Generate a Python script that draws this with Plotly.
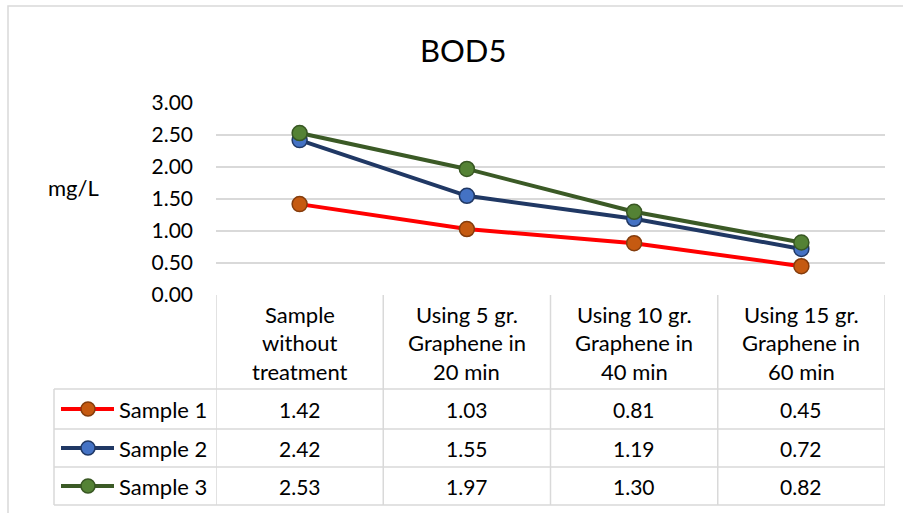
import plotly.graph_objects as go

# ---- data ----
categories = ["Sample<br>without<br>treatment",
              "Using 5 gr.<br>Graphene in<br>20 min",
              "Using 10 gr.<br>Graphene in<br>40 min",
              "Using 15 gr.<br>Graphene in<br>60 min"]
series_names = ["Sample 1", "Sample 2", "Sample 3"]
sample1 = [1.42, 1.03, 0.81, 0.45]
sample2 = [2.42, 1.55, 1.19, 0.72]
sample3 = [2.53, 1.97, 1.30, 0.82]
y_ticks = [0, 0.5, 1.0, 1.5, 2.0, 2.5, 3.0]
title_text = "BOD5"
y_label = "mg/L"

# ---- styles ----
line_colors = ["#FF0000", "#203864", "#3B5A26"]
marker_fill = ["#C55A11", "#4472C4", "#548235"]
marker_edge = ["#843C0C", "#203864", "#385723"]
FONT = "Lato"
GRID = "#D9D9D9"

W, H = 903, 513
L, R, T, B = 216, 885, 103, 295   # plot area in pixels


def py(p):  # pixel y -> paper y
    return (B - p) / (B - T)


def px(p):  # pixel x -> paper x
    return (p - L) / (R - L)


xs = list(range(len(categories)))
all_series = [sample1, sample2, sample3]

fig = go.Figure()
for name, vals, lc, mf, me in zip(series_names, all_series, line_colors, marker_fill, marker_edge):
    fig.add_trace(go.Scatter(
        x=xs, y=vals, mode="lines+markers", name=name,
        line=dict(color=lc, width=4),
        marker=dict(size=15, color=mf, line=dict(color=me, width=1.5)),
        showlegend=False, cliponaxis=False,
    ))

shapes = []
annotations = []

# outer chart border
shapes.append(dict(type="rect", xref="paper", yref="paper",
                   x0=px(8), x1=px(910), y0=py(6), y1=py(520),
                   line=dict(color="#D9D9D9", width=1.5), layer="below"))

# table geometry (pixels)
header_top = 295
row_edges = [389, 429, 467, 505]
leg_left = 54
n = len(categories)

# vertical lines for category columns (data x coordinates)
for i in range(n + 1):
    shapes.append(dict(type="line", xref="x", yref="paper",
                       x0=i - 0.5, x1=i - 0.5, y0=py(header_top), y1=py(row_edges[-1]),
                       line=dict(color=GRID, width=1.5)))
# legend column left edge
shapes.append(dict(type="line", xref="paper", yref="paper",
                   x0=px(leg_left), x1=px(leg_left), y0=py(row_edges[0]), y1=py(row_edges[-1]),
                   line=dict(color=GRID, width=1.5)))
# horizontal lines
for yy in row_edges:
    shapes.append(dict(type="line", xref="paper", yref="paper",
                       x0=px(leg_left), x1=1, y0=py(yy), y1=py(yy),
                       line=dict(color=GRID, width=1.5)))

TXT = dict(family=FONT, size=22, color="#000000")
NUM = dict(family=FONT, size=21, color="#000000")

# header texts (each line separately for spacing)
for i, cat in enumerate(categories):
    for j, ln in enumerate(cat.split("<br>")):
        annotations.append(dict(x=i, y=py(314 + 28.5 * j), xref="x", yref="paper",
                                xanchor="center", yanchor="middle",
                                text=ln, showarrow=False, font=TXT))

# value cells + legend keys
for r, (name, vals) in enumerate(zip(series_names, all_series)):
    yc = (row_edges[r] + row_edges[r + 1]) / 2
    for i, v in enumerate(vals):
        annotations.append(dict(x=i, y=py(yc), xref="x", yref="paper",
                                xanchor="center", yanchor="middle",
                                text=f"{v:.2f}", showarrow=False, font=NUM))
    shapes.append(dict(type="line", xref="paper", yref="paper",
                       x0=px(61), x1=px(114), y0=py(yc), y1=py(yc),
                       line=dict(color=line_colors[r], width=4)))
    shapes.append(dict(type="circle", xref="paper", yref="paper",
                       x0=px(88 - 7), x1=px(88 + 7), y0=py(yc - 7), y1=py(yc + 7),
                       fillcolor=marker_fill[r], line=dict(color=marker_edge[r], width=1.5)))
    annotations.append(dict(x=px(117), y=py(yc), xref="paper", yref="paper",
                            xanchor="left", yanchor="middle",
                            text=name, showarrow=False, font=TXT))

# title and y label
annotations.append(dict(x=px(463), y=py(50), xref="paper", yref="paper",
                        xanchor="center", yanchor="middle",
                        text=title_text, showarrow=False,
                        font=dict(family=FONT, size=31, color="#000000")))
annotations.append(dict(x=px(73), y=py(187), xref="paper", yref="paper",
                        xanchor="center", yanchor="middle",
                        text=y_label, showarrow=False, font=TXT))

fig.update_layout(
    width=W, height=H,
    margin=dict(l=L, r=W - R, t=T, b=H - B, pad=0),
    paper_bgcolor="white", plot_bgcolor="white",
    shapes=shapes, annotations=annotations,
    xaxis=dict(range=[-0.5, n - 0.5], showgrid=False, zeroline=False,
               showticklabels=False, showline=False, fixedrange=True),
    yaxis=dict(range=[0, 3], tickvals=y_ticks, tickformat=".2f",
               showgrid=True, gridcolor=GRID, gridwidth=1.5, zeroline=False,
               showline=False, ticks="", ticklabelstandoff=22,
               tickfont=NUM, fixedrange=True),
    font=dict(family=FONT),
)

fig.write_html("out.html", config={"displayModeBar": False},
               post_script="document.body.style.margin='0';document.body.style.overflow='hidden';")
